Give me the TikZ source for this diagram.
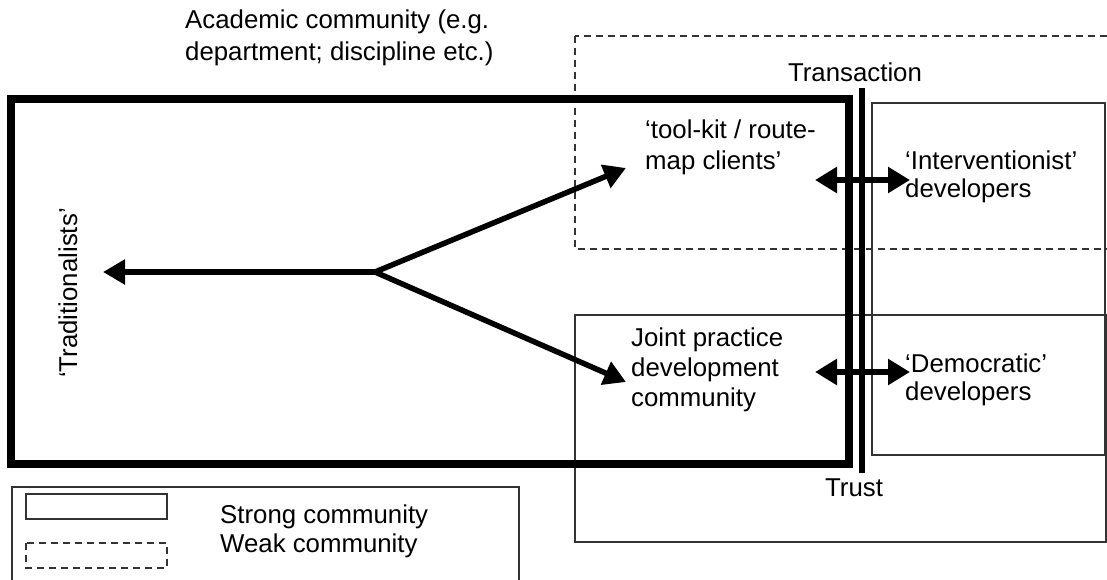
\documentclass[tikz,border=0pt]{standalone}
\usepackage{fontspec}
\setmainfont{Liberation Sans}
\usetikzlibrary{arrows.meta}
\tikzset{
  thinbox/.style={draw=black!80, line width=1.5pt},
  weakbox/.style={draw=black!80, line width=1.5pt, dash pattern=on 7pt off 5pt},
  strongbox/.style={draw=black, line width=8pt},
  bar/.style={draw=black, line width=5.5pt},
  arr/.style={draw=black, line width=5.5pt, -{Triangle[length=22pt,width=24pt]}},
  darr/.style={draw=black, line width=5.5pt, {Triangle[length=22pt,width=25pt]}-{Triangle[length=22pt,width=25pt]}},
  lbl/.style={inner sep=0pt, font=\fontsize{25.8}{30}\selectfont, align=left},
}
\begin{document}
\begin{tikzpicture}[x=1pt,y=-1pt]
\useasboundingbox (0,0) rectangle (1107,579);
\clip (0,0) rectangle (1107,579);
% thin / dashed boxes
\draw[weakbox] (575,36) rectangle (1120,249);
\draw[thinbox] (575,315) rectangle (1106,542);
\draw[thinbox] (872,103) rectangle (1105,455);
% legend
\draw[thinbox] (12,487) rectangle (519,600);
\draw[thinbox] (26,494) rectangle (167,519);
\draw[weakbox] (26,543) rectangle (167,568);
\node[lbl, anchor=base west] (strong) at (220,523) {Strong community};
\node[lbl, anchor=base west] (weak) at (220,552) {Weak community};
% strong community
\draw[strongbox] (11,99) rectangle (849,464);
\draw[bar] (862,88) -- (862,473);
% labels
\node[lbl, anchor=west, font=\fontsize{25.8}{32}\selectfont] (acad) at (185,38) {Academic community (e.g.\\department; discipline etc.)};
\node[lbl] (trans) at (855,72) {Transaction};
\node[lbl] (trust) at (854,488) {Trust};
\node[lbl, anchor=west, font=\fontsize{25.8}{31}\selectfont] (tool) at (645,147) {‘tool-kit / route-\\map clients’};
\node[lbl, anchor=west, font=\fontsize{25.8}{28}\selectfont] (interv) at (905,177) {‘Interventionist’\\developers};
\node[lbl, anchor=west] (joint) at (631,370) {Joint practice\\development\\community};
\node[lbl, anchor=west, font=\fontsize{25.8}{28}\selectfont] (demo) at (905,380) {‘Democratic’\\developers};
\node[lbl, rotate=90] (trad) at (68,293) {‘Traditionalists’};
% connectors
\coordinate (j) at (375,272);
\coordinate (tradtip) at (103,272);
\coordinate (tooltip) at (626,168);
\coordinate (jointtip) at (626,382);
\coordinate (ua) at (815,180);
\coordinate (ub) at (910,180);
\coordinate (la) at (815,372);
\coordinate (lb) at (910,372);
\draw[arr] (j) -- (tradtip);
\draw[arr] (j) -- (tooltip);
\draw[arr] (j) -- (jointtip);
\draw[darr] (ua) -- (ub);
\draw[darr] (la) -- (lb);
\end{tikzpicture}
\end{document}
